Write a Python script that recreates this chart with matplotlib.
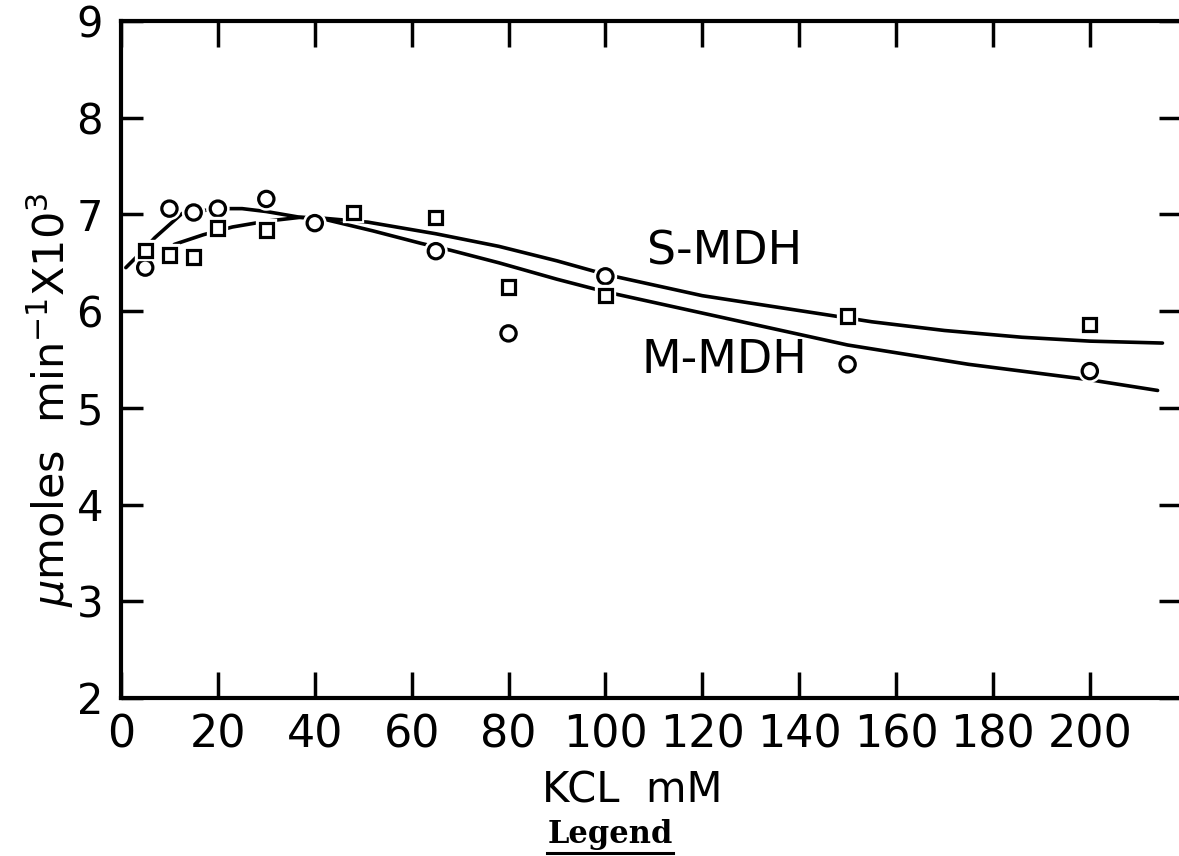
import matplotlib
matplotlib.use("Agg")
import matplotlib.pyplot as plt
import matplotlib.patheffects as pe
from matplotlib.lines import Line2D

plt.rcParams['font.family'] = ['DejaVu Sans']
plt.rcParams['mathtext.fontset'] = 'dejavusans'

# measured points (KCl mM, umoles min-1 x10^3)
kcl_circ = [5, 10, 15, 20, 30, 40, 65, 80, 100, 150, 200]
act_circ = [6.45, 7.06, 7.02, 7.06, 7.16, 6.91, 6.62, 5.77, 6.36, 5.45, 5.38]
kcl_sq = [5, 10, 15, 20, 30, 48, 65, 80, 100, 150, 200]
act_sq = [6.63, 6.58, 6.56, 6.86, 6.84, 7.02, 6.97, 6.25, 6.16, 5.95, 5.86]

# hand drawn curves
s_mdh_x = [11, 17, 23, 30, 37, 42, 51, 65, 78, 90, 100, 120, 146, 155, 170, 186, 200, 215]
s_mdh_y = [6.69, 6.79, 6.87, 6.93, 6.97, 6.96, 6.92, 6.80, 6.67, 6.52, 6.38, 6.16, 5.96, 5.89, 5.80, 5.73, 5.69, 5.67]
m_mdh_x = [1, 4, 7, 12.6, 20, 25, 30, 37, 42, 52, 62, 68, 78, 90, 100, 120, 150, 175, 200, 214]
m_mdh_y = [6.45, 6.6, 6.76, 7.01, 7.06, 7.06, 7.03, 6.97, 6.95, 6.83, 6.70, 6.63, 6.50, 6.33, 6.20, 5.98, 5.65, 5.45, 5.29, 5.18]

x_ticks = [0, 20, 40, 60, 80, 100, 120, 140, 160, 180, 200]
y_ticks = [2, 3, 4, 5, 6, 7, 8, 9]

W, H = 1179, 856
fig = plt.figure(figsize=(W / 100, H / 100), dpi=100)
ax = fig.add_axes([121 / W, 1 - 698 / H, (1181 - 121) / W, (698 - 21) / H])

ax.plot(s_mdh_x, s_mdh_y, color='black', lw=2.6, solid_capstyle='round', zorder=2)
ax.plot(m_mdh_x, m_mdh_y, color='black', lw=2.6, solid_capstyle='round', zorder=2)

halo = [pe.withStroke(linewidth=6, foreground='white')]
ax.plot(kcl_circ, act_circ, 'o', ms=11, mfc='white', mec='black', mew=2.3,
        zorder=3, path_effects=halo)
ax.plot(kcl_sq, act_sq, 's', ms=9.5, mfc='white', mec='black', mew=2.3,
        zorder=3, path_effects=halo)

ax.text(124.6, 6.61, 'S-MDH', fontsize=33, ha='center', va='center')
ax.text(124.6, 5.49, 'M-MDH', fontsize=33, ha='center', va='center')

ax.set_xlim(0, (1181 - 121) / 4.844)
ax.set_ylim(2, 9)
ax.set_xticks(x_ticks)
ax.set_yticks(y_ticks)
ax.tick_params(axis='x', direction='in', length=19, width=2.5, labelsize=32, pad=11,
               top=True)
ax.tick_params(axis='y', direction='in', length=16, width=2.5, labelsize=30, pad=13,
               right=True)
for s in ['left', 'bottom', 'top']:
    ax.spines[s].set_linewidth(3)
ax.spines['right'].set_visible(False)

ax.set_ylabel(r'$\mu$moles  min$^{-1}$X10$^3$', fontsize=31, va='center')
ax.yaxis.set_label_coords(-0.067, 0.44)
ax.set_xlabel('KCL  mM', fontsize=30, va='center')
ax.xaxis.set_label_coords(0.482, -0.136)

leg = fig.text(610 / W, 1 - 835 / H, 'Legend', family='DejaVu Serif', weight='bold',
               fontsize=22, ha='center', va='center')
fig.canvas.draw()
bb = leg.get_window_extent().transformed(fig.transFigure.inverted())
fig.add_artist(Line2D([bb.x0, bb.x1], [bb.y0 - 0.003, bb.y0 - 0.003], color='black',
                      lw=2.2, transform=fig.transFigure))

fig.savefig('out.png', dpi=100)
